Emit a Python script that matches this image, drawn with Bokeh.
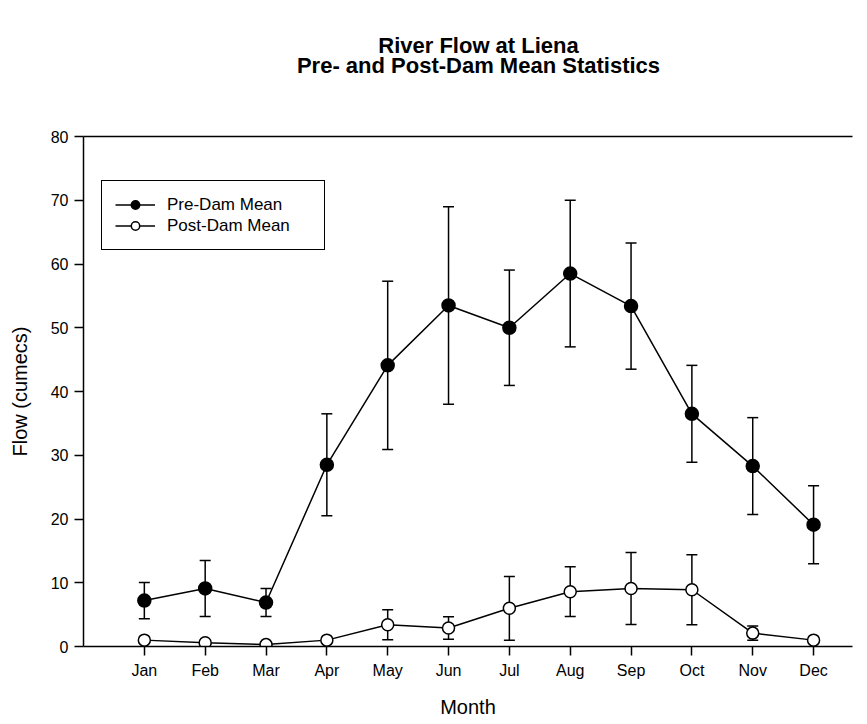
from bokeh.plotting import figure
from bokeh.models import (ColumnDataSource, Range1d, FixedTicker, LinearAxis,
                          Whisker, TeeHead, Legend, LegendItem)
from bokeh.embed import file_html
from bokeh.resources import INLINE

months = ["Jan", "Feb", "Mar", "Apr", "May", "Jun",
          "Jul", "Aug", "Sep", "Oct", "Nov", "Dec"]
pre_mean = [7.2, 9.1, 6.9, 28.5, 44.1, 53.5, 50.0, 58.5, 53.4, 36.5, 28.3, 19.1]
pre_err = [2.85, 4.4, 2.2, 8.0, 13.2, 15.5, 9.05, 11.5, 9.9, 7.6, 7.6, 6.1]
post_mean = [1.0, 0.6, 0.3, 1.0, 3.4, 2.9, 6.0, 8.6, 9.1, 8.9, 2.1, 1.0]
post_err = [0.2, 0.3, 0.2, 0.3, 2.35, 1.75, 5.0, 3.9, 5.65, 5.5, 1.1, 0.3]
y_ticks = [0, 10, 20, 30, 40, 50, 60, 70, 80]
title_lines = ["River Flow at Liena", "Pre- and Post-Dam Mean Statistics"]

x = list(range(1, len(months) + 1))
FONT = "Liberation Sans"
FRAME_LEFT, FRAME_TOP, FRAME_W, FRAME_H = 83, 136, 769, 510
X0, X1 = 0.0, 12.64
TITLE_CENTER_PX = 478          # page x of the title's centre

pre_src = ColumnDataSource(dict(
    x=x, y=pre_mean,
    upper=[m + e for m, e in zip(pre_mean, pre_err)],
    lower=[m - e for m, e in zip(pre_mean, pre_err)]))
post_src = ColumnDataSource(dict(
    x=x, y=post_mean,
    upper=[m + e for m, e in zip(post_mean, post_err)],
    lower=[m - e for m, e in zip(post_mean, post_err)]))

p = figure(frame_width=FRAME_W, frame_height=FRAME_H,
           x_range=Range1d(X0, X1), y_range=Range1d(0, 80),
           output_backend="svg", toolbar_location=None, title=None,
           min_border_left=FRAME_LEFT, min_border_right=13,
           min_border_top=FRAME_TOP, min_border_bottom=76,
           background_fill_color="white", border_fill_color="white")
p.outline_line_color = None
p.grid.visible = False

# axes
for ax in (p.xaxis[0], p.yaxis[0]):
    ax.axis_line_width = 1.5
    ax.major_tick_line_width = 1.5
    ax.major_tick_in = 0
    ax.major_tick_out = 9
    ax.minor_tick_line_color = None
    ax.major_label_text_font = FONT
    ax.major_label_text_font_size = "16px"
    ax.major_label_text_color = "black"
    ax.axis_label_text_font = FONT
    ax.axis_label_text_font_size = "20px"
    ax.axis_label_text_font_style = "normal"
    ax.axis_label_text_color = "black"

p.xaxis.ticker = FixedTicker(ticks=x)
p.xaxis.major_label_overrides = {i: m for i, m in zip(x, months)}
p.xaxis.axis_label = "Month"
p.xaxis.major_label_standoff = 6
p.xaxis.axis_label_standoff = 14

p.yaxis.ticker = FixedTicker(ticks=y_ticks)
p.yaxis.axis_label = "Flow (cumecs)"
p.yaxis.major_label_standoff = 6
p.yaxis.axis_label_standoff = 17

# top frame line + two centred title lines (carried by top axes)
title_x = X0 + (TITLE_CENTER_PX - FRAME_LEFT) * (X1 - X0) / FRAME_W


def title_axis(text, standoff, line):
    return LinearAxis(ticker=FixedTicker(ticks=[title_x]),
                      major_label_overrides={title_x: text},
                      axis_line_width=1.5,
                      axis_line_color="black" if line else None,
                      major_tick_line_color=None, minor_tick_line_color=None,
                      major_tick_in=0, major_tick_out=0,
                      major_label_standoff=standoff,
                      major_label_text_font=FONT,
                      major_label_text_font_size="22px",
                      major_label_text_font_style="bold",
                      major_label_text_color="black")


p.add_layout(title_axis(title_lines[1], 59, True), "above")
p.add_layout(title_axis(title_lines[0], -8, False), "above")

# error bars
for src in (pre_src, post_src):
    w = Whisker(source=src, base="x", upper="upper", lower="lower",
                dimension="height", line_width=1.5, line_color="black",
                upper_head=TeeHead(size=11, line_width=1.5, line_color="black"),
                lower_head=TeeHead(size=11, line_width=1.5, line_color="black"))
    p.add_layout(w)

# lines and markers
l1 = p.line("x", "y", source=pre_src, line_color="black", line_width=1.5)
s1 = p.scatter("x", "y", source=pre_src, size=13, marker="circle",
               fill_color="black", line_color="black", line_width=1.5)
l2 = p.line("x", "y", source=post_src, line_color="black", line_width=1.5)
s2 = p.scatter("x", "y", source=post_src, size=12, marker="circle",
               fill_color="white", line_color="black", line_width=1.5)

legend = Legend(items=[LegendItem(label="Pre-Dam Mean", renderers=[l1, s1]),
                       LegendItem(label="Post-Dam Mean", renderers=[l2, s2])],
                location=(18, 396), border_line_color="black",
                border_line_width=1.5, border_line_alpha=1.0,
                padding=13, spacing=0,
                glyph_width=40, glyph_height=21, label_height=21,
                label_width=144, label_standoff=12,
                label_text_font=FONT, label_text_font_size="17px",
                label_text_color="black",
                background_fill_alpha=1.0)
p.add_layout(legend, "center")

open("out.html", "w").write(file_html(p, INLINE))
